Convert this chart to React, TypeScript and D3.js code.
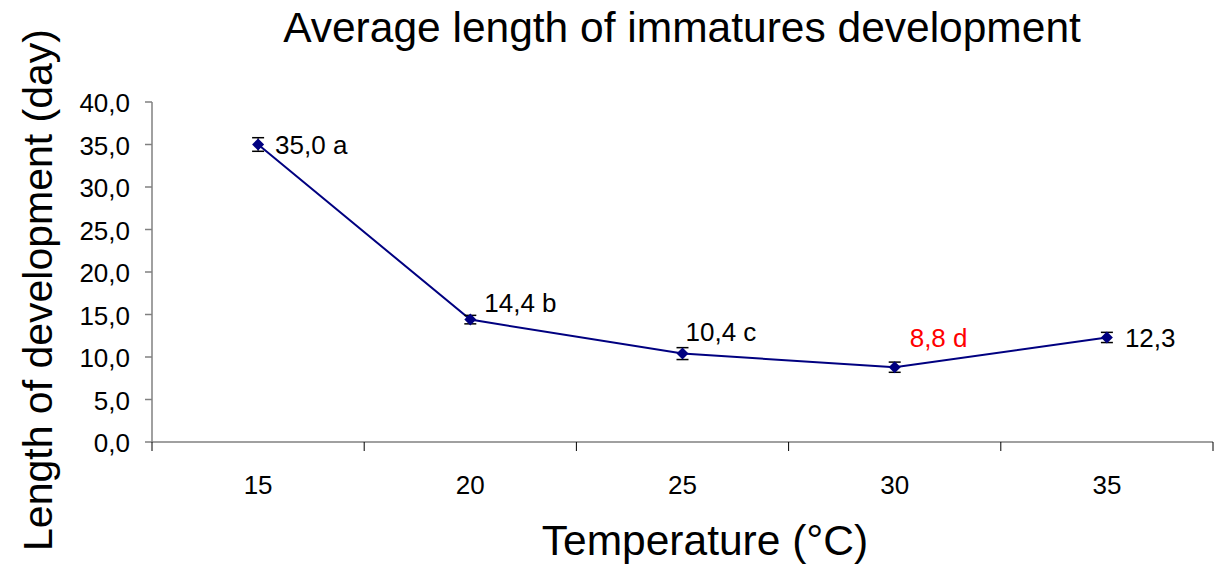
import React from "react";
import * as d3 from "d3";

const categories = ["15", "20", "25", "30", "35"];
const values = [35.0, 14.4, 10.4, 8.8, 12.3];
const errors = [0.8, 0.5, 0.7, 0.6, 0.6];
const labels = ["35,0 a", "14,4 b", "10,4 c", "8,8 d", "12,3"];
const labelColors = ["#000", "#000", "#000", "#ff0000", "#000"];
const yTicks = [0, 5, 10, 15, 20, 25, 30, 35, 40];

const W = 1222, H = 565;
const left = 152, right = 1213, top = 102, bottom = 442;

export default function App() {
  const x = d3.scaleBand<string>().domain(categories).range([left, right]);
  const y = d3.scaleLinear().domain([0, 40]).range([bottom, top]);
  const line = d3.line<number>()
    .x((_, i) => x(categories[i])! + x.bandwidth() / 2)
    .y((d) => y(d));
  const fmt = (v: number) => v.toFixed(1).replace(".", ",");
  const font = "Liberation Sans, Arial, sans-serif";
  const labelOffsets: [number, number][] = [[17, 9], [14, -8], [3, -13], [15, -20], [18, 10]];
  return (
    <svg width={W} height={H} style={{ position: "absolute", left: 0, top: 0, background: "#fff" }} fontFamily={font}>
      <text x={682} y={42} fontSize={42.5} textAnchor="middle">Average length of immatures development</text>
      {/* y axis */}
      <line x1={left} x2={left} y1={top} y2={bottom} stroke="#808080" strokeWidth={1.5} />
      {yTicks.map((t) => (
        <g key={t}>
          <line x1={left - 7} x2={left} y1={y(t)} y2={y(t)} stroke="#808080" strokeWidth={1.5} />
          <text x={left - 22} y={y(t) + 10} fontSize={26} textAnchor="end">{fmt(t)}</text>
        </g>
      ))}
      {/* x axis */}
      <line x1={left} x2={right} y1={bottom} y2={bottom} stroke="#808080" strokeWidth={1.5} />
      {categories.map((c, i) => (
        <g key={c}>
          <line x1={x(c)! + x.bandwidth()} x2={x(c)! + x.bandwidth()} y1={bottom} y2={bottom + 9} stroke="#000" strokeWidth={1} />
          {i === 0 && <line x1={left} x2={left} y1={bottom} y2={bottom + 9} stroke="#000" strokeWidth={1} />}
          <text x={x(c)! + x.bandwidth() / 2} y={494} fontSize={26} textAnchor="middle">{c}</text>
        </g>
      ))}
      <path d={line(values)!} fill="none" stroke="#000080" strokeWidth={2} />
      {values.map((v, i) => {
        const cx = x(categories[i])! + x.bandwidth() / 2;
        const cy = y(v);
        const e = errors[i];
        return (
          <g key={i}>
            <line x1={cx} x2={cx} y1={y(v + e)} y2={y(v - e)} stroke="#000" strokeWidth={1} />
            <line x1={cx - 6} x2={cx + 6} y1={y(v + e)} y2={y(v + e)} stroke="#000" strokeWidth={1.5} />
            <line x1={cx - 6} x2={cx + 6} y1={y(v - e)} y2={y(v - e)} stroke="#000" strokeWidth={1.5} />
            <path d={`M${cx},${cy - 6}L${cx + 6},${cy}L${cx},${cy + 6}L${cx - 6},${cy}Z`} fill="#000080" />
            <text x={cx + labelOffsets[i][0]} y={cy + labelOffsets[i][1]} fontSize={26} fill={labelColors[i]}>{labels[i]}</text>
          </g>
        );
      })}
      <text x={705} y={555} fontSize={42.5} textAnchor="middle">Temperature (°C)</text>
      <text transform={`translate(52,290) rotate(-90)`} fontSize={41} textAnchor="middle">Length of development (day)</text>
    </svg>
  );
}
